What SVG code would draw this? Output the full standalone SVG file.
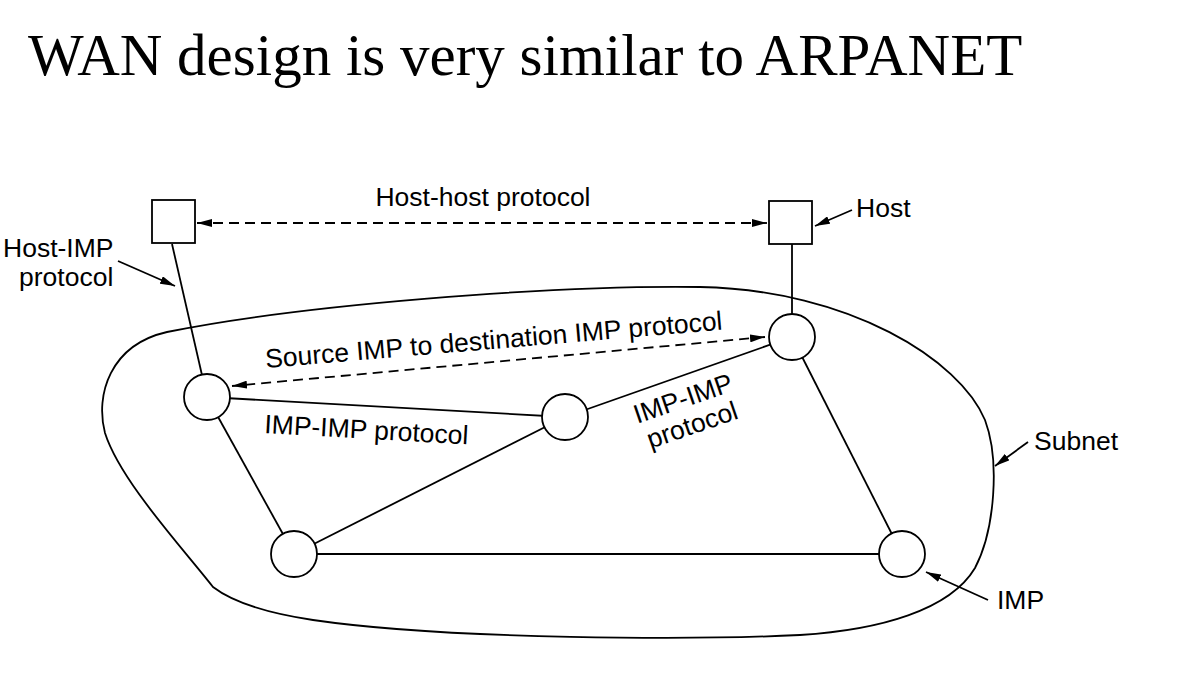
<svg xmlns="http://www.w3.org/2000/svg" width="1180" height="692" viewBox="0 0 1180 692">
<style>
.ln{stroke:#000;stroke-width:1.8;fill:none}
.dash{stroke:#000;stroke-width:1.8;fill:none;stroke-dasharray:10 6}
.imp{fill:#fff;stroke:#000;stroke-width:1.8}
.host{fill:#fff;stroke:#000;stroke-width:1.8}
.lbl{font-family:"Liberation Sans",Arial,sans-serif;font-size:26.5px;fill:#000}
.title{font-family:"Liberation Serif","Times New Roman",serif;font-size:59px;fill:#000}
</style>
<defs>
<marker id="ah" viewBox="0 0 15 8" refX="15" refY="4" markerWidth="15" markerHeight="8" markerUnits="userSpaceOnUse" orient="auto-start-reverse">
<path d="M0,0 L15,4 L0,8 Z" fill="#000"/>
</marker>
</defs>
<rect width="1180" height="692" fill="#fff"/>
<text class="title" x="28" y="75">WAN design is very similar to ARPANET</text>

<g id="subnet">
<path class="ln" d="M167,332 C300,305 550,285 700,287 C850,290 960,360 985,420 C1000,460 995,530 975,568 C950,610 880,630 800,635 C700,640 450,640 313,620 C260,612 230,600 213,587 C180,545 120,480 105,433 C95,395 110,345 167,332 Z"/>
</g>

<g id="connectors">
<line class="ln" x1="172" y1="244" x2="207" y2="397"/>
<line class="ln" x1="792" y1="244" x2="792" y2="337"/>
<line class="ln" x1="207" y1="397" x2="565" y2="417"/>
<line class="ln" x1="565" y1="417" x2="792" y2="337"/>
<line class="ln" x1="207" y1="397" x2="294" y2="554"/>
<line class="ln" x1="294" y1="554" x2="565" y2="417"/>
<line class="ln" x1="294" y1="554" x2="902" y2="554"/>
<line class="ln" x1="792" y1="337" x2="902" y2="554"/>
<line class="dash" x1="197" y1="223" x2="767" y2="223" marker-start="url(#ah)" marker-end="url(#ah)"/>
<line class="dash" x1="765" y1="337" x2="232" y2="386" marker-start="url(#ah)" marker-end="url(#ah)"/>
<line class="ln" x1="118" y1="261" x2="175" y2="286" marker-end="url(#ah)"/>
<line class="ln" x1="852" y1="210" x2="815" y2="226" marker-end="url(#ah)"/>
<line class="ln" x1="1028" y1="442" x2="995" y2="466" marker-end="url(#ah)"/>
<line class="ln" x1="988" y1="600" x2="926" y2="572" marker-end="url(#ah)"/>
</g>

<g id="host-left"><rect class="host" x="152" y="200" width="43" height="43"/></g>
<g id="host-right"><rect class="host" x="769" y="201" width="43" height="43"/></g>
<g id="imp-tl"><circle class="imp" cx="207" cy="397" r="23"/></g>
<g id="imp-tr"><circle class="imp" cx="792" cy="337" r="23"/></g>
<g id="imp-mid"><circle class="imp" cx="565" cy="417" r="23"/></g>
<g id="imp-bl"><circle class="imp" cx="294" cy="554" r="23"/></g>
<g id="imp-br"><circle class="imp" cx="902" cy="554" r="23"/></g>

<g id="labels">
<text class="lbl" x="483" y="206" text-anchor="middle">Host-host protocol</text>
<text class="lbl" x="856" y="217">Host</text>
<text class="lbl" x="3" y="257">Host-IMP</text>
<text class="lbl" x="19" y="286">protocol</text>
<text class="lbl" transform="translate(266,368) rotate(-4.8)">Source IMP to destination IMP protocol</text>
<text class="lbl" transform="translate(264,433) rotate(3.2)">IMP-IMP protocol</text>
<g transform="translate(686,407) rotate(-19)">
<text class="lbl" x="0" y="0" text-anchor="middle">IMP-IMP</text>
<text class="lbl" x="0" y="28" text-anchor="middle">protocol</text>
</g>
<text class="lbl" x="1034" y="450">Subnet</text>
<text class="lbl" x="997" y="609">IMP</text>
</g>
</svg>
